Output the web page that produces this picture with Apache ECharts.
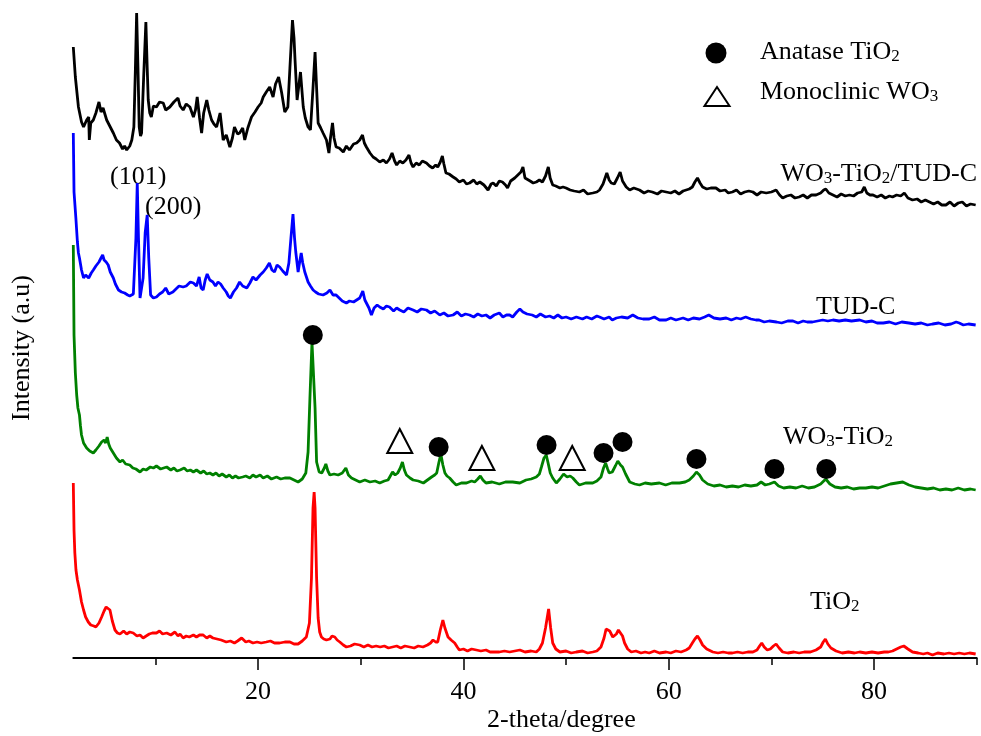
<!DOCTYPE html>
<html>
<head>
<meta charset="utf-8">
<script src="https://cdn.jsdelivr.net/npm/echarts@6/dist/echarts.min.js"></script>
<style>html,body{margin:0;padding:0;background:#fff}#c{width:981px;height:736px}</style>
</head>
<body>
<div id="c"></div>
<script>
// 2-theta (degree), intensity (a.u., stacked offsets)
const wo3TiO2TudC = [[2.0,611],[2.2,581],[2.5,551],[2.8,536],[3.0,531],[3.3,538],[3.5,541],[3.56,518],[3.7,535],[3.95,538],[4.2,545],[4.5,556],[4.7,546],[4.9,550],[5.25,538],[5.5,533],[5.9,525],[6.2,518],[6.5,515],[6.8,509],[7.0,512],[7.2,508],[7.5,512],[7.7,518],[7.9,531],[8.05,590],[8.17,645],[8.3,590],[8.42,531],[8.55,522],[8.65,525],[8.85,580],[9.07,636],[9.2,590],[9.3,558],[9.45,545],[9.6,541],[9.8,552],[10.1,551],[10.4,556],[10.76,555],[11.0,548],[11.4,551],[11.8,556],[12.2,560],[12.4,552],[12.7,548],[13.0,554],[13.36,551],[13.7,541],[13.9,548],[14.07,561],[14.3,540],[14.5,525],[14.7,545],[15.0,558],[15.2,548],[15.47,538],[15.7,534],[15.96,531],[16.3,545],[16.6,518],[16.9,523],[17.25,511],[17.5,520],[17.7,531],[18.0,524],[18.2,525],[18.5,530],[18.7,518],[19.0,530],[19.36,541],[19.7,546],[20.0,551],[20.3,555],[20.5,561],[20.8,566],[21.13,571],[21.46,561],[21.7,574],[22.0,581],[22.3,565],[22.6,546],[22.9,551],[23.1,590],[23.35,638],[23.5,620],[23.6,598],[23.8,558],[24.13,586],[24.4,551],[24.6,540],[24.87,531],[25.1,528],[25.35,570],[25.55,606],[25.7,570],[25.85,535],[26.1,530],[26.33,525],[26.66,518],[26.9,505],[27.05,520],[27.25,535],[27.4,520],[27.6,511],[27.9,510],[28.3,506],[28.6,512],[28.9,508],[29.3,514],[29.6,515],[29.9,518],[30.17,523],[30.35,515],[30.55,511],[30.9,505],[31.2,501],[31.5,499],[31.85,496],[32.2,498],[32.5,495],[32.8,499],[33.05,505],[33.3,497],[33.5,493],[33.8,497],[34.1,495],[34.4,498],[34.7,503],[34.9,495],[35.1,491],[35.4,495],[35.7,493],[36.0,497],[36.4,495],[36.7,492],[37.0,490],[37.3,493],[37.5,491],[37.75,496],[37.95,502],[38.1,494],[38.3,485],[38.6,484],[39.0,481],[39.3,479],[39.6,476],[40.0,478],[40.3,474],[40.6,475],[41.0,478],[41.3,474],[41.6,476],[42.0,473],[42.4,468],[42.7,474],[42.9,475],[43.2,472],[43.5,477],[43.8,476],[44.1,473],[44.3,470],[44.6,477],[45.0,480],[45.3,483],[45.6,486],[45.8,491],[46.0,480],[46.1,478],[46.5,477],[46.8,475],[47.1,476],[47.4,478],[47.7,476],[48.0,482],[48.27,491],[48.45,480],[48.7,473],[49.0,472],[49.4,470],[49.7,471],[50.0,470],[50.4,468],[50.8,467],[51.3,466],[51.7,468],[52.1,464],[52.6,465],[53.0,466],[53.26,468],[53.6,474],[53.97,485],[54.2,478],[54.4,475],[54.7,474],[55.0,480],[55.27,486],[55.5,477],[55.86,471],[56.2,468],[56.6,470],[57.15,468],[57.6,465],[58.0,467],[58.4,466],[58.9,464],[59.3,467],[59.75,466],[60.2,465],[60.6,467],[61.0,464],[61.4,467],[61.7,468],[62.0,469],[62.3,471],[62.55,476],[62.8,480],[63.05,475],[63.3,471],[63.7,469],[64.1,470],[64.6,470],[65.0,467],[65.5,468],[65.8,465],[66.2,466],[66.6,468],[67.0,464],[67.4,466],[67.8,467],[68.2,466],[68.6,463],[69.0,466],[69.5,465],[70.0,466],[70.46,468],[70.8,463],[71.1,460],[71.5,462],[71.9,463],[72.3,460],[72.7,461],[73.1,463],[73.5,460],[73.9,463],[74.35,463],[74.8,465],[75.1,468],[75.3,469],[75.6,465],[76.0,463],[76.4,461],[76.8,464],[77.2,462],[77.6,463],[78.0,462],[78.4,465],[78.8,466],[79.05,471],[79.3,465],[79.6,463],[79.9,463],[80.3,461],[80.7,463],[81.1,460],[81.5,462],[81.8,461],[82.2,463],[82.6,462],[82.95,465],[83.3,460],[83.75,458],[84.2,459],[84.6,456],[85.0,458],[85.4,456],[85.8,454],[86.2,456],[86.6,453],[87.0,453],[87.4,456],[87.8,452],[88.2,455],[88.6,456],[89.0,452],[89.4,454],[89.9,453]];

const tudC = [[2.0,525],[2.07,466],[2.25,440],[2.4,416],[2.5,405],[2.6,400],[2.8,388],[3.0,380],[3.2,383],[3.5,380],[3.75,385],[3.95,388],[4.2,392],[4.5,396],[4.7,400],[4.86,403],[5.0,398],[5.2,396],[5.4,393],[5.6,386],[5.9,380],[6.1,374],[6.4,368],[6.7,366],[7.0,365],[7.3,363],[7.5,362],[7.68,361],[7.85,364],[7.97,366],[8.1,420],[8.23,475],[8.35,420],[8.5,360],[8.65,358],[8.8,380],[9.0,425],[9.2,443],[9.35,400],[9.53,363],[9.8,360],[10.1,361],[10.4,364],[10.7,366],[11.0,370],[11.3,364],[11.7,366],[12.0,369],[12.3,372],[12.7,371],[13.0,372],[13.4,376],[13.7,375],[14.0,372],[14.26,381],[14.45,370],[14.65,368],[14.85,378],[15.04,384],[15.3,378],[15.6,376],[15.85,372],[16.1,376],[16.35,374],[16.6,370],[16.9,366],[17.1,362],[17.3,360],[17.6,366],[17.9,370],[18.2,376],[18.5,372],[18.9,370],[19.2,375],[19.5,381],[19.8,378],[20.2,383],[20.5,386],[20.8,390],[21.1,395],[21.35,388],[21.6,386],[21.85,393],[22.1,391],[22.4,387],[22.77,383],[23.0,395],[23.2,420],[23.4,444],[23.55,420],[23.67,406],[23.9,386],[24.05,396],[24.2,405],[24.35,395],[24.55,386],[24.87,376],[25.1,372],[25.36,368],[25.6,366],[25.9,364],[26.33,363],[26.7,365],[27.0,368],[27.3,363],[27.6,363],[27.9,360],[28.2,357],[28.6,355],[28.9,357],[29.3,356],[29.6,358],[29.9,360],[30.2,367],[30.4,358],[30.55,356],[30.8,350],[31.04,343],[31.3,350],[31.6,353],[31.85,351],[32.2,349],[32.5,352],[32.8,351],[33.2,347],[33.5,350],[33.8,348],[34.2,346],[34.6,350],[35.1,348],[35.5,346],[35.9,349],[36.4,348],[36.8,345],[37.2,347],[37.7,343],[38.1,345],[38.5,342],[39.0,343],[39.4,346],[39.8,342],[40.2,344],[40.6,343],[41.0,341],[41.4,344],[41.8,342],[42.2,343],[42.6,340],[43.0,343],[43.5,345],[43.85,341],[44.2,343],[44.5,343],[44.8,341],[45.2,346],[45.5,349],[45.8,346],[46.2,344],[46.7,343],[47.1,341],[47.5,344],[48.0,341],[48.4,342],[48.8,340],[49.2,343],[49.6,340],[50.0,341],[50.5,339],[51.0,341],[51.6,339],[52.0,341],[52.5,339],[53.0,342],[53.26,341],[53.7,339],[54.2,341],[54.5,338],[54.9,340],[55.4,341],[56.0,340],[56.5,343],[57.0,340],[57.5,339],[58.1,339],[58.6,341],[59.1,338],[59.75,338],[60.2,340],[60.7,338],[61.4,340],[61.9,338],[62.4,340],[63.0,339],[63.5,341],[63.9,343],[64.4,340],[65.0,339],[65.6,340],[66.1,338],[66.6,340],[67.0,339],[67.5,341],[68.0,339],[68.5,338],[68.8,338],[69.3,336],[69.8,337],[70.5,336],[71.0,335],[71.6,337],[72.1,337],[72.6,335],[73.1,337],[73.5,336],[74.0,336],[74.5,337],[75.0,338],[75.5,337],[76.0,338],[76.6,337],[77.2,338],[77.8,337],[78.6,338],[79.2,336],[79.8,337],[80.3,335],[80.9,335],[81.5,336],[82.1,334],[82.7,336],[83.4,335],[84.0,334],[84.6,335],[85.2,333],[85.7,334],[86.3,335],[86.9,333],[87.5,334],[88.0,336],[88.3,335],[88.7,333],[89.2,334],[89.9,333]];

const wo3TiO2 = [[2.0,413],[2.07,323],[2.2,285],[2.33,263],[2.45,250],[2.6,243],[2.7,232],[2.8,223],[3.0,215],[3.3,210],[3.6,207],[3.95,205],[4.2,208],[4.5,212],[4.76,216],[5.0,218],[5.15,215],[5.3,221],[5.45,214],[5.6,210],[5.9,205],[6.2,200],[6.55,196],[6.8,198],[7.1,194],[7.5,193],[7.8,190],[8.1,189],[8.5,186],[8.8,189],[9.1,188],[9.5,191],[9.8,190],[10.1,192],[10.5,189],[10.8,190],[11.1,191],[11.5,188],[11.8,190],[12.1,187],[12.4,188],[12.8,190],[13.1,187],[13.4,188],[13.7,186],[14.0,188],[14.4,185],[14.7,187],[15.0,184],[15.3,185],[15.6,183],[15.9,185],[16.2,182],[16.5,184],[16.9,181],[17.2,183],[17.5,180],[17.8,182],[18.1,180],[18.5,181],[18.8,182],[19.2,180],[19.5,183],[19.8,181],[20.2,183],[20.5,180],[20.9,182],[21.3,179],[21.8,181],[22.2,179],[22.6,180],[23.1,180],[23.5,178],[23.9,176],[24.3,179],[24.65,185],[24.87,206],[25.05,260],[25.25,316],[25.4,316],[25.55,250],[25.7,196],[25.95,186],[26.2,185],[26.45,190],[26.6,194],[26.8,187],[27.0,183],[27.4,184],[27.8,183],[28.2,185],[28.55,190],[28.8,183],[29.1,180],[29.5,178],[29.9,176],[30.4,178],[30.9,176],[31.4,177],[31.85,175],[32.3,177],[32.66,178],[33.1,186],[33.35,183],[33.6,185],[33.85,190],[34.06,196],[34.25,188],[34.45,183],[34.8,180],[35.1,178],[35.6,177],[36.1,175],[36.5,178],[36.9,181],[37.2,183],[37.4,185],[37.6,195],[37.8,204],[38.0,193],[38.2,185],[38.4,182],[38.66,180],[39.0,176],[39.3,173],[39.8,175],[40.3,175],[40.8,177],[41.1,176],[41.4,179],[41.65,182],[41.9,178],[42.2,175],[42.8,176],[43.5,174],[44.1,176],[44.8,176],[45.5,175],[46.1,178],[46.6,179],[47.1,181],[47.4,184],[47.6,191],[47.85,200],[48.07,203],[48.25,195],[48.46,185],[48.7,180],[49.05,175],[49.4,179],[49.76,184],[50.1,181],[50.4,182],[50.66,180],[51.0,176],[51.3,173],[51.9,175],[52.6,175],[53.0,177],[53.4,181],[53.65,190],[53.85,195],[54.05,189],[54.2,185],[54.5,186],[54.8,192],[55.04,197],[55.3,193],[55.5,191],[55.8,184],[56.2,176],[56.7,174],[57.15,173],[57.7,175],[58.3,174],[59.1,175],[59.7,173],[60.3,175],[61.05,175],[61.6,176],[62.0,178],[62.4,182],[62.7,186],[63.0,183],[63.3,178],[63.8,174],[64.4,172],[65.0,173],[65.6,171],[66.2,172],[66.8,171],[67.4,173],[68.0,172],[68.6,173],[69.0,176],[69.4,173],[69.8,174],[70.3,176],[70.7,172],[71.2,170],[71.8,171],[72.4,170],[73.0,172],[73.6,170],[74.2,171],[74.8,174],[75.3,179],[75.7,174],[76.2,171],[76.8,170],[77.4,171],[78.0,169],[78.6,170],[79.2,170],[79.8,171],[80.4,170],[81.0,172],[81.6,174],[82.2,175],[82.8,176],[83.4,173],[84.0,171],[84.6,170],[85.2,169],[85.8,170],[86.4,168],[87.0,169],[87.6,168],[88.2,170],[88.8,168],[89.4,169],[89.9,168]];

const tiO2 = [[2.0,175],[2.07,128],[2.15,105],[2.26,88],[2.4,78],[2.6,68],[2.8,56],[3.0,48],[3.2,41],[3.46,36],[3.7,33],[4.0,32],[4.2,31],[4.5,35],[4.76,41],[5.0,47],[5.2,51],[5.35,53],[5.57,48],[5.8,37],[6.06,28],[6.3,25],[6.55,24],[6.9,27],[7.2,24],[7.5,26],[7.84,25],[8.2,22],[8.5,23],[8.8,20],[9.1,22],[9.4,24],[9.7,25],[10.1,25],[10.4,27],[10.7,24],[11.1,25],[11.5,23],[11.9,26],[12.2,22],[12.4,24],[12.7,20],[13.0,22],[13.3,21],[13.7,23],[14.0,21],[14.3,23],[14.65,23],[15.0,20],[15.3,22],[15.6,20],[16.0,19],[16.4,18],[16.9,16],[17.3,17],[17.7,15],[18.0,17],[18.4,20],[18.8,16],[19.1,17],[19.5,15],[19.9,16],[20.3,15],[20.8,16],[21.2,17],[21.6,15],[22.1,15],[22.6,16],[23.1,16],[23.5,14],[23.9,14],[24.3,17],[24.7,21],[25.0,35],[25.2,80],[25.35,150],[25.46,166],[25.55,150],[25.7,80],[25.85,40],[26.0,26],[26.17,21],[26.4,19],[26.66,18],[27.0,19],[27.2,22],[27.47,21],[27.7,18],[27.96,16],[28.3,13],[28.6,11],[29.0,12],[29.4,14],[29.9,13],[30.3,11],[30.7,13],[31.1,11],[31.5,12],[31.9,11],[32.3,12],[32.7,10],[33.1,11],[33.5,12],[33.9,10],[34.3,12],[34.77,11],[35.2,10],[35.6,12],[36.06,11],[36.5,13],[36.8,15],[37.04,18],[37.3,16],[37.5,16],[37.75,28],[38.0,38],[38.2,30],[38.5,21],[38.8,18],[39.15,15],[39.4,11],[39.6,8],[40.0,9],[40.4,7],[40.8,9],[41.26,8],[41.7,7],[42.2,8],[42.6,6],[42.9,6],[43.5,6],[44.0,7],[44.5,6],[45.0,7],[45.5,8],[46.0,6],[46.6,7],[47.1,6],[47.4,9],[47.7,15],[48.0,30],[48.3,49],[48.5,30],[48.7,15],[49.0,9],[49.4,6],[50.0,7],[50.5,5],[51.0,6],[51.6,7],[52.1,5],[52.6,6],[53.0,7],[53.4,11],[53.7,20],[53.9,29],[54.07,31],[54.25,27],[54.4,25],[54.55,21],[54.7,20],[54.9,24],[55.1,28],[55.27,29],[55.5,22],[55.7,15],[56.0,9],[56.35,6],[56.8,7],[57.3,5],[57.7,6],[58.1,5],[58.6,7],[59.1,5],[59.75,6],[60.2,5],[60.7,7],[61.2,6],[61.7,8],[62.0,10],[62.3,15],[62.55,19],[62.8,22],[63.05,18],[63.3,13],[63.7,9],[64.3,6],[64.8,5],[65.3,6],[65.8,5],[66.2,5],[66.7,6],[67.2,5],[67.7,6],[68.2,6],[68.6,8],[68.85,12],[69.06,15],[69.3,11],[69.6,8],[69.9,9],[70.2,12],[70.46,14],[70.75,10],[71.1,6],[71.6,5],[72.2,6],[72.7,5],[73.2,6],[73.8,6],[74.35,8],[74.8,11],[75.05,16],[75.26,19],[75.5,14],[75.8,10],[76.3,7],[76.9,5],[77.5,6],[78.1,5],[78.6,6],[79.2,5],[79.8,6],[80.4,5],[81.0,6],[81.4,6],[81.8,7],[82.2,9],[82.6,11],[82.9,12],[83.3,9],[83.75,6],[84.3,5],[84.8,4],[85.2,5],[85.7,3],[86.2,5],[86.8,4],[87.3,5],[87.8,4],[88.3,5],[88.8,4],[89.3,5],[89.9,4]];

// phase markers on the WO3-TiO2 pattern
const anataseMarks = [[25.33,323],[37.59,211],[48.1,213],[53.65,205],[55.5,216],[62.7,199],[70.3,189],[75.35,189]];
const wo3Marks = [[33.8,217],[41.8,200],[50.6,200]];

const majorTicks = [20, 40, 60, 80];
const minorTicks = [10, 30, 50, 70, 90];

const FONT = 'Liberation Serif';
const chart = echarts.init(document.getElementById('c'), null, {renderer: 'canvas'});

const sub = {fontSize: 17, fontFamily: FONT, color: '#000', verticalAlign: 'bottom', lineHeight: 12};
function txt(x, y, text, align) {
  return {
    type: 'text', x: x, y: y, silent: true,
    style: {
      text: text, fontFamily: FONT, fontSize: 26, lineHeight: 27, fill: '#000',
      align: align || 'left', verticalAlign: 'middle',
      rich: {s: sub}
    }
  };
}

const option = {
  backgroundColor: '#fff',
  animation: false,
  grid: {left: 73.3, right: 4.3, top: 0, bottom: 78},
  xAxis: [{
    type: 'value', min: 2, max: 90, position: 'bottom',
    axisLine: {show: true, lineStyle: {color: '#000', width: 2}},
    axisTick: {show: true, customValues: majorTicks, length: 12, inside: false, lineStyle: {color: '#000', width: 1.5}},
    axisLabel: {show: true, customValues: majorTicks, margin: 21, fontFamily: FONT, fontSize: 26, color: '#000'},
    splitLine: {show: false}
  }, {
    type: 'value', min: 2, max: 90, position: 'bottom',
    axisLine: {show: false},
    axisTick: {show: true, customValues: minorTicks, length: 7, lineStyle: {color: '#000', width: 1.5}},
    axisLabel: {show: false},
    splitLine: {show: false}
  }],
  yAxis: {
    type: 'value', min: 0, max: 658,
    axisLine: {show: false}, axisTick: {show: false}, axisLabel: {show: false}, splitLine: {show: false}
  },
  series: [
    {name: 'WO3-TiO2/TUD-C', type: 'line', data: wo3TiO2TudC, showSymbol: false, lineStyle: {color: '#000000', width: 2.8}, itemStyle: {color: '#000'}},
    {name: 'TUD-C', type: 'line', data: tudC, showSymbol: false, lineStyle: {color: '#0000ff', width: 2.8}, itemStyle: {color: '#0000ff'}},
    {name: 'WO3-TiO2', type: 'line', data: wo3TiO2, showSymbol: false, lineStyle: {color: '#008000', width: 2.8}, itemStyle: {color: '#008000'}},
    {name: 'TiO2', type: 'line', data: tiO2, showSymbol: false, lineStyle: {color: '#ff0000', width: 2.8}, itemStyle: {color: '#ff0000'}},
    {name: 'Anatase TiO2', type: 'scatter', data: anataseMarks, symbol: 'circle', symbolSize: 20, itemStyle: {color: '#000', opacity: 1}, z: 5},
    {name: 'Monoclinic WO3', type: 'scatter', data: wo3Marks, symbol: 'triangle', symbolSize: [25, 24], itemStyle: {color: 'rgba(255,255,255,0)', borderColor: '#000', borderWidth: 2, opacity: 1}, z: 5}
  ],
  graphic: [
    {type: 'circle', shape: {cx: 716, cy: 53, r: 10.5}, style: {fill: '#000'}, silent: true},
    {type: 'polygon', shape: {points: [[717, 87], [704.5, 106], [729.5, 106]]}, style: {fill: 'none', stroke: '#000', lineWidth: 2}, silent: true},
    txt(760, 52, 'Anatase TiO{s|2}'),
    txt(760, 92, 'Monoclinic WO{s|3}'),
    txt(977, 174, 'WO{s|3}-TiO{s|2}/TUD-C', 'right'),
    txt(816, 307, 'TUD-C'),
    txt(783, 437, 'WO{s|3}-TiO{s|2}'),
    txt(810, 602, 'TiO{s|2}'),
    txt(110, 177, '(101)'),
    txt(145, 207, '(200)'),
    {type: 'text', x: 487, y: 720, silent: true, style: {text: '2-theta/degree', fontFamily: FONT, fontSize: 26, fill: '#000', align: 'left', verticalAlign: 'middle'}},
    {type: 'text', x: 22, y: 348, rotation: Math.PI / 2, silent: true, style: {text: 'Intensity (a.u)', fontFamily: FONT, fontSize: 26, fill: '#000', align: 'center', verticalAlign: 'middle'}}
  ]
};
chart.setOption(option);
</script>
</body>
</html>
